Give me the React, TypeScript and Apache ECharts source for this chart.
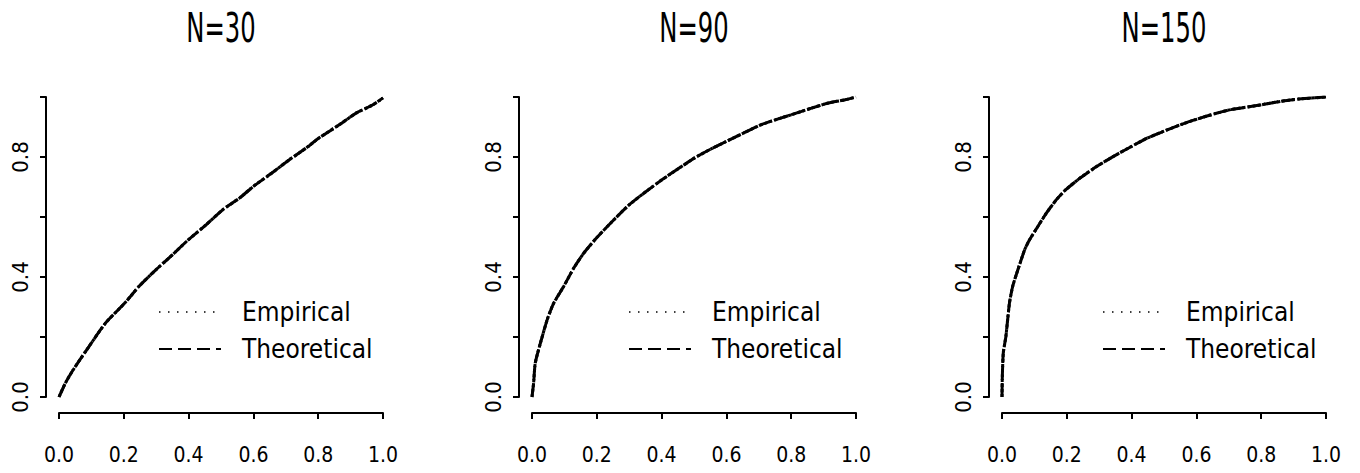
import React, { useEffect, useRef } from "react";
import * as echarts from "echarts";

const panelTitles = ["N=30", "N=90", "N=150"];
const legendNames = ["Empirical", "Theoretical"];
const yLabeledTicks = [0, 0.4, 0.8];

// Panel N=30
const x30 = [0, 0.02, 0.041, 0.093, 0.144, 0.203, 0.247, 0.299, 0.35, 0.399, 0.454, 0.505, 0.557, 0.6, 0.66, 0.711, 0.763, 0.802, 0.866, 0.918, 0.969, 1.0];
const y30 = [0, 0.047, 0.086, 0.169, 0.247, 0.313, 0.369, 0.424, 0.474, 0.524, 0.574, 0.624, 0.663, 0.702, 0.749, 0.791, 0.83, 0.863, 0.908, 0.947, 0.974, 0.997];

// Panel N=90
const x90 = [0, 0.005, 0.01, 0.026, 0.047, 0.067, 0.098, 0.129, 0.16, 0.199, 0.243, 0.295, 0.346, 0.401, 0.45, 0.502, 0.553, 0.6, 0.657, 0.708, 0.76, 0.801, 0.863, 0.915, 0.967, 1.0];
const y90 = [0, 0.047, 0.113, 0.18, 0.258, 0.313, 0.369, 0.43, 0.48, 0.53, 0.58, 0.636, 0.68, 0.724, 0.76, 0.797, 0.827, 0.852, 0.882, 0.908, 0.927, 0.941, 0.963, 0.98, 0.991, 1.0];

// Panel N=150
const x150 = [0, 0.001, 0.004, 0.012, 0.023, 0.033, 0.049, 0.07, 0.085, 0.111, 0.137, 0.168, 0.197, 0.241, 0.293, 0.344, 0.401, 0.448, 0.5, 0.552, 0.604, 0.656, 0.707, 0.8, 0.863, 0.915, 1.0];
const y150 = [0, 0.069, 0.147, 0.202, 0.313, 0.369, 0.424, 0.491, 0.524, 0.569, 0.613, 0.658, 0.691, 0.73, 0.769, 0.802, 0.836, 0.863, 0.886, 0.908, 0.927, 0.944, 0.958, 0.974, 0.986, 0.993, 1.0];

const panelX = [x30, x90, x150];
const panelY = [y30, y90, y150];

const FONT = "'Liberation Sans Narrow', 'DejaVu Sans Condensed', 'Liberation Sans', sans-serif";

const gridLefts = [59, 532, 1002];
const legendLefts = [153, 623, 1097];

export default function App() {
  const ref = useRef<HTMLDivElement>(null);
  useEffect(() => {
    if (!ref.current) return;
    const chart = echarts.init(ref.current, undefined, { renderer: "svg" });
    const axisLineStyle = { color: "#000", width: 2 };
    const grids = gridLefts.map((l) => ({ left: l, top: 97, width: 324, height: 300 }));
    const xAxes = gridLefts.map((_, i) => ({
      type: "value",
      gridIndex: i,
      min: 0,
      max: 1,
      interval: 0.2,
      offset: 16,
      axisLine: { show: true, onZero: false, lineStyle: axisLineStyle },
      axisTick: { show: true, length: 6, lineStyle: axisLineStyle },
      axisLabel: {
        color: "#000",
        fontSize: 21,
        fontFamily: FONT,
        margin: 31,
        formatter: (v: number) => v.toFixed(1),
      },
      splitLine: { show: false },
    }));
    const yAxes = gridLefts.map((_, i) => ({
      type: "value",
      gridIndex: i,
      min: 0,
      max: 1,
      interval: 0.2,
      offset: 13,
      axisLine: { show: true, onZero: false, lineStyle: axisLineStyle },
      axisTick: { show: true, length: 6, lineStyle: axisLineStyle },
      axisLabel: {
        color: "#000",
        fontSize: 22,
        fontFamily: FONT,
        rotate: 90,
        margin: 15,
        formatter: (v: number) =>
          yLabeledTicks.some((t) => Math.abs(t - v) < 1e-9) ? v.toFixed(1) : "",
      },
      splitLine: { show: false },
    }));
    const series: any[] = [];
    panelX.forEach((xs, i) => {
      const data = xs.map((x, k) => [x, panelY[i][k]]);
      series.push({
        type: "line",
        name: "Empirical",
        xAxisIndex: i,
        yAxisIndex: i,
        data,
        symbol: "none",
        showSymbol: false,
        smooth: 0.2,
        lineStyle: { color: "#000", width: 3, type: [3, 2] },
        itemStyle: { color: "#000" },
      });
      series.push({
        type: "line",
        name: "Theoretical",
        xAxisIndex: i,
        yAxisIndex: i,
        data,
        symbol: "none",
        showSymbol: false,
        smooth: 0.2,
        lineStyle: { color: "#000", width: 3, type: [14, 3] },
        itemStyle: { color: "#000" },
      });
    });
    const legends = legendLefts.map((l) => ({
      left: l,
      top: 294,
      orient: "vertical",
      itemWidth: 62,
      itemHeight: 14,
      itemGap: 11,
      selectedMode: false,
      itemStyle: { opacity: 0, borderWidth: 0 },
      data: [
        { name: legendNames[0], lineStyle: { color: "#000", width: 1.5, type: [1.5, 7.5] } },
        { name: legendNames[1], lineStyle: { color: "#000", width: 2, type: [13, 6] } },
      ],
      textStyle: { color: "#000", fontSize: 26, fontFamily: FONT, padding: [0, 0, 0, 16] },
    }));
    const titleCenters = gridLefts.map((l) => l + 162);
    const graphic = panelTitles.map((t, i) => ({
      type: "text",
      x: titleCenters[i],
      y: 28,
      scaleY: 1.5,
      style: {
        text: t,
        fill: "#000",
        font: `27px ${FONT}`,
        align: "center",
        verticalAlign: "middle",
      },
    }));
    chart.setOption({
      animation: false,
      backgroundColor: "#fff",
      grid: grids,
      xAxis: xAxes,
      yAxis: yAxes,
      legend: legends,
      series,
      graphic,
    });
    return () => chart.dispose();
  }, []);
  return (
    <div
      ref={ref}
      style={{ position: "absolute", left: 0, top: 0, width: 1360, height: 473 }}
    />
  );
}
